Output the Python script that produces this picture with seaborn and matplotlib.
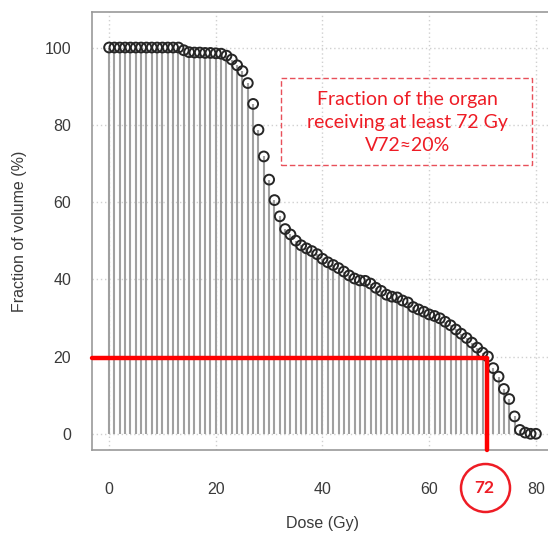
import matplotlib
matplotlib.use("Agg")
import matplotlib.pyplot as plt
from matplotlib.patches import Rectangle, Ellipse
import seaborn as sns
import pandas as pd

dose = list(range(0, 81))
volume = [100.0] * 14 + [
    99.3, 98.8, 98.7, 98.7, 98.6, 98.6, 98.5, 98.4,
    97.9, 96.9, 95.4, 93.9, 90.8, 85.4, 78.7, 71.8, 65.8, 60.5,
    56.3, 53.0, 51.6, 50.0, 48.8, 48.0, 47.3, 46.5, 45.3, 44.4,
    43.7, 42.9, 42.0, 41.0, 40.2, 39.7, 39.6, 38.9, 37.8, 37.0,
    36.0, 35.5, 35.3, 34.5, 34.0, 32.8, 32.2, 31.6, 30.9, 30.5,
    29.9, 29.0, 28.1, 27.0, 25.9, 24.8, 23.6, 22.3, 21.0, 20.0,
    17.0, 14.8, 11.6, 9.0, 4.5, 1.0, 0.3, 0.0, 0.0,
]
xticks = [0, 20, 40, 60, 80]
yticks = [0, 20, 40, 60, 80, 100]

# annotation values
v_dose = 70.9      # where the red marker line was drawn
v_frac = 19.6
box_lines = "Fraction of the organ\nreceiving at least 72 Gy\nV72\u224820%"

df = pd.DataFrame({"dose": dose, "volume": volume})

sns.set_style("white")
plt.rcParams["font.family"] = ["Liberation Sans", "DejaVu Sans"]

fig = plt.figure(figsize=(5.48, 5.33), dpi=100)
ax = fig.add_axes([0.1679, 0.1557, 0.8412, 0.8218])

# dotted grid like R's grid()
for gx in xticks:
    ax.axvline(gx, color="#d0d0d0", lw=1, ls=(0, (1, 2)), zorder=0)
for gy in yticks:
    ax.axhline(gy, color="#d0d0d0", lw=1, ls=(0, (1, 2)), zorder=0)

# stems
ax.vlines(df["dose"], 0, df["volume"], color="#a0a0a0", lw=1.5, zorder=1)
# points
sns.scatterplot(data=df, x="dose", y="volume", ax=ax, s=50,
                facecolor="none", edgecolor="#262626", linewidth=1.4,
                zorder=3, legend=False)

ax.set_xlim(-3.2, 83.2)
ax.set_ylim(-4.2, 109.2)
ax.set_xticks(xticks)
ax.set_yticks(yticks)

for side in ["left", "top", "bottom"]:
    ax.spines[side].set_color("#999999")
    ax.spines[side].set_linewidth(1.2)
ax.spines["right"].set_visible(False)

ax.tick_params(axis="both", direction="out", length=8, width=1.2,
               color="#888888", labelcolor="#3a3a3a", labelsize=11.5)
ax.tick_params(axis="x", pad=15)
ax.tick_params(axis="y", pad=7)

ax.set_xlabel("Dose (Gy)", fontsize=11.5, color="#3a3a3a")
ax.set_ylabel("Fraction of volume (%)", fontsize=11.5, color="#3a3a3a")
ax.xaxis.set_label_coords(0.5, -0.15)
ax.yaxis.set_label_coords(-0.14, 0.5)

# red marker lines
ax.plot([-3.2, v_dose, v_dose], [v_frac, v_frac, -4.2], color="#ff0000",
        lw=3.2, solid_joinstyle="round", zorder=4, clip_on=False)

# dashed annotation box
ax.add_patch(Rectangle((32.3, 69.5), 47.0, 22.5, fill=False,
                       edgecolor="#e8505a", lw=1, ls=(0, (4, 2)), zorder=5))
ax.text(55.9, 80.6, box_lines, ha="center", va="center", color="#ee1c25",
        fontsize=14, linespacing=1.4, family=["Lato", "DejaVu Sans"],
        zorder=6)

# circled 72 below the axis
fig.add_artist(Ellipse((485.5 / 548, 1 - 488 / 533), 49 / 548, 48 / 533,
                       transform=fig.transFigure, fill=False,
                       edgecolor="#ee1c25", lw=1.8))
fig.text(484 / 548, 1 - 488 / 533, "72", ha="center", va="center",
         color="#ee1c25", fontsize=12.5, fontweight="bold",
         family=["Lato", "DejaVu Sans"])

fig.savefig("out.png", dpi=100)
